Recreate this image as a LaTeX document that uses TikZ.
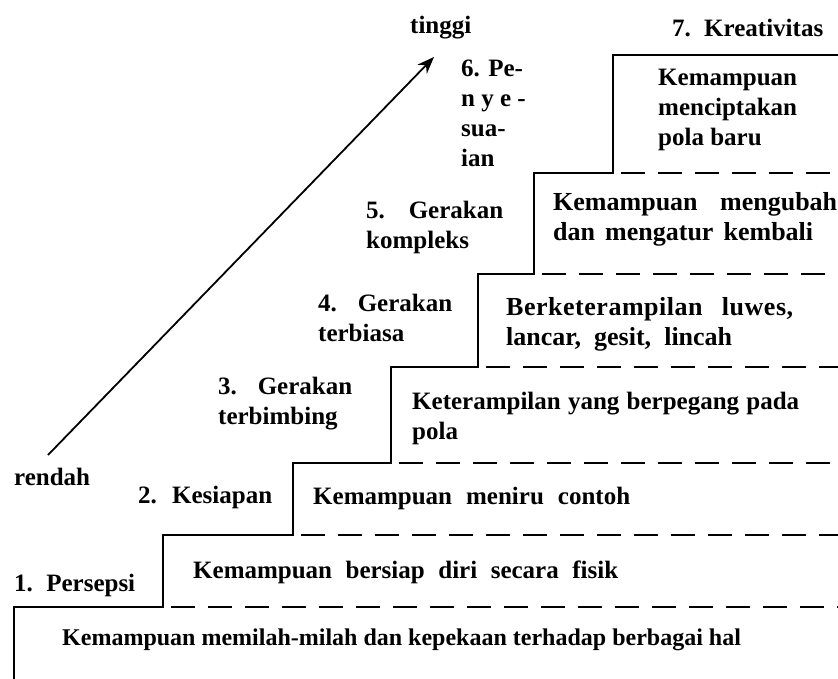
\documentclass[tikz,border=0pt]{standalone}
\usepackage{fontspec}
\setmainfont{Liberation Serif}
\usetikzlibrary{arrows.meta}
\newcommand\justline[2]{\makebox[#1pt][s]{#2}}
\begin{document}
\begin{tikzpicture}[x=1pt,y=-1pt,
  txt/.style={font=\bfseries\fontsize{25}{30}\selectfont, inner sep=0pt, align=left, anchor=west},
  bigtxt/.style={txt, font=\bfseries\fontsize{26}{30}\selectfont},
  stair/.style={line width=1.8pt, line join=miter},
  dashline/.style={line width=1.8pt, dash pattern=on 24pt off 13pt, dash phase=-8pt},
  arrowline/.style={line width=1.8pt, -{Stealth[length=17pt,width=13pt]}}
]
\useasboundingbox (0,0) rectangle (838,679);
% staircase
\draw[stair] (14,679) -- (14,607) -- (163,607) -- (163,535) -- (293,535) -- (293,463)
  -- (391,463) -- (391,367) -- (478,367) -- (478,274) -- (534,274) -- (534,173)
  -- (613,173) -- (613,55) -- (838,55);
\draw[dashline] (163,607) -- (838,607);
\draw[dashline] (293,535) -- (838,535);
\draw[dashline] (391,463) -- (838,463);
\draw[dashline] (478,367) -- (838,367);
\draw[dashline] (534,274) -- (838,274);
\draw[dashline] (613,173) -- (838,173);
% step descriptions
\node[txt, font=\bfseries\fontsize{24}{30}\selectfont] (d1) at (62,640) {Kemampuan memilah-milah dan kepekaan terhadap berbagai hal};
\node[txt] (d2) at (193,572) {\justline{425}{Kemampuan bersiap diri secara fisik}};
\node[txt] (d3) at (313,498) {\justline{317}{Kemampuan meniru contoh}};
\node[txt] (d4) at (412,418) {\justline{387}{Keterampilan yang berpegang pada}\\pola};
\node[bigtxt] (d5) at (506,324) {\justline{287}{\addfontfeatures{LetterSpace=2}Berketerampilan luwes,}\\\justline{226}{lancar, gesit, lincah}};
\node[bigtxt] (d6) at (553,219) {\justline{284}{Kemampuan mengubah}\\\justline{260}{dan mengatur kembali}};
\node[txt] (d7) at (658,110) {Kemampuan\\menciptakan\\pola baru};
% level labels
\node[txt] (l1) at (14,585) {\justline{121}{1. Persepsi}};
\node[txt] (l2) at (138,497) {\justline{134}{2. Kesiapan}};
\node[txt] (l3) at (218,404) {\justline{134}{3. Gerakan}\\terbimbing};
\node[txt] (l4) at (318,318) {\justline{134}{4. Gerakan}\\terbiasa};
\node[txt] (l5) at (366,227) {\justline{137}{5. Gerakan}\\kompleks};
\node[txt] (l6) at (461,113) {6. Pe-\\n y e -\\sua-\\ian};
\node[txt] (l7) at (672,28) {\justline{151}{7. Kreativitas}};
\node[txt] (hi) at (410,28) {tinggi};
\node[txt] (lo) at (14,477) {rendah};
% arrow
\coordinate (a0) at (48,455);
\coordinate (a1) at (434,57);
\draw[arrowline] (a0) -- (a1);
\end{tikzpicture}
\end{document}
